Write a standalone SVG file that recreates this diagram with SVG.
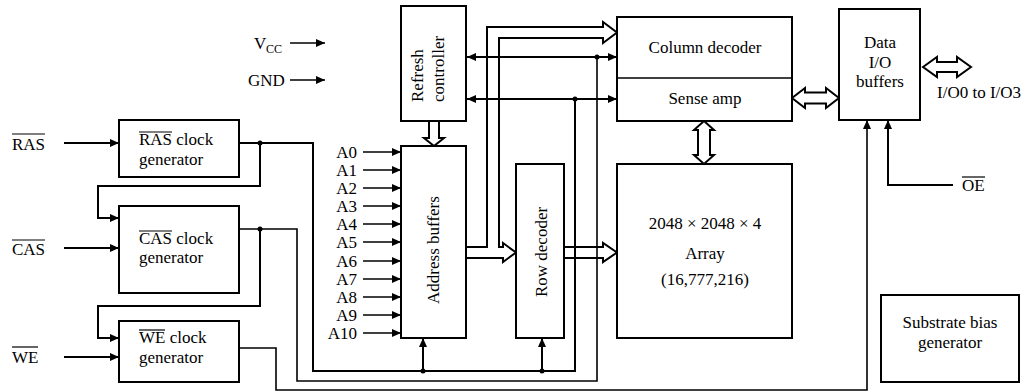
<svg xmlns="http://www.w3.org/2000/svg" width="1024" height="392" viewBox="0 0 1024 392">
<style>
text{font-family:"Liberation Serif","Times New Roman",serif;font-size:17px;fill:#000}
.box{fill:#fff;stroke:#000;stroke-width:2}
.w{fill:none;stroke:#000;stroke-width:2}
.t{fill:none;stroke:#000;stroke-width:1.6}
.bus{fill:#fff;stroke:#000;stroke-width:2;stroke-linejoin:miter}
.ol{stroke:#000;stroke-width:1.2}
.m{text-anchor:middle}
.e{text-anchor:end}
</style>
<defs>
<marker id="ah" markerUnits="userSpaceOnUse" markerWidth="9" markerHeight="8" refX="9" refY="4" orient="auto">
<path d="M0,0 L9,4 L0,8 z" fill="#000"/>
</marker>
</defs>
<rect width="1024" height="392" fill="#fff"/>

<g id="power">
<text x="254" y="49">V</text><text x="266" y="53" style="font-size:12px">CC</text>
<line class="t" x1="290" y1="43" x2="325" y2="43" marker-end="url(#ah)"/>
<text x="248" y="86">GND</text>
<line class="t" x1="290" y1="80" x2="325" y2="80" marker-end="url(#ah)"/>
</g>

<g id="inputs">
<text x="12" y="150">RAS</text><line class="ol" x1="12" y1="134" x2="45" y2="134"/>
<text x="12" y="255">CAS</text><line class="ol" x1="12" y1="240" x2="45" y2="240"/>
<text x="12" y="363">WE</text><line class="ol" x1="12" y1="347" x2="38" y2="347"/>
<text x="962" y="191">OE</text><line class="ol" x1="962" y1="177" x2="985" y2="177"/>
<text x="937" y="98">I/O0 to I/O3</text>
<g id="addr-labels">
<text class="e" x="357" y="158">A0</text>
<text class="e" x="357" y="176">A1</text>
<text class="e" x="357" y="194">A2</text>
<text class="e" x="357" y="212">A3</text>
<text class="e" x="357" y="230">A4</text>
<text class="e" x="357" y="248">A5</text>
<text class="e" x="357" y="267">A6</text>
<text class="e" x="357" y="285">A7</text>
<text class="e" x="357" y="303">A8</text>
<text class="e" x="357" y="321">A9</text>
<text class="e" x="357" y="339">A10</text>
</g>
</g>

<g id="connectors">
<!-- inputs to clock generators -->
<line class="w" x1="64" y1="143" x2="119" y2="143" marker-end="url(#ah)"/>
<line class="w" x1="64" y1="248" x2="119" y2="248" marker-end="url(#ah)"/>
<line class="w" x1="64" y1="357" x2="119" y2="357" marker-end="url(#ah)"/>
<!-- RAS gen to CAS gen -->
<polyline class="w" points="260,143 260,186 98,186 98,218 119,218" marker-end="url(#ah)"/>
<!-- CAS gen to WE gen -->
<polyline class="w" points="260,229 260,306 98,306 98,338 119,338" marker-end="url(#ah)"/>
<!-- RAS output loop -->
<polyline class="w" points="239,143 313,143 313,371 575,371 575,99"/>
<line class="w" x1="423" y1="371" x2="423" y2="338" marker-end="url(#ah)"/>
<line class="w" x1="542" y1="371" x2="542" y2="338" marker-end="url(#ah)"/>
<!-- CAS output loop -->
<polyline class="t" points="239,229 297,229 297,381 597,381 597,57"/>
<!-- WE output to data I/O -->
<polyline class="t" points="239,348 276,348 276,390 867,390 867,120" marker-end="url(#ah)"/>
<!-- OE -->
<polyline class="w" points="953,185 888,185 888,120" marker-end="url(#ah)"/>
<!-- refresh to column decoder / sense amp -->
<line class="w" x1="540" y1="57" x2="467" y2="57" marker-end="url(#ah)"/>
<line class="w" x1="540" y1="57" x2="617" y2="57" marker-end="url(#ah)"/>
<line class="w" x1="540" y1="99" x2="467" y2="99" marker-end="url(#ah)"/>
<line class="w" x1="540" y1="99" x2="617" y2="99" marker-end="url(#ah)"/>
<!-- address inputs -->
<g class="t">
<line x1="363" y1="152" x2="401" y2="152" marker-end="url(#ah)"/>
<line x1="363" y1="170" x2="401" y2="170" marker-end="url(#ah)"/>
<line x1="363" y1="188" x2="401" y2="188" marker-end="url(#ah)"/>
<line x1="363" y1="206" x2="401" y2="206" marker-end="url(#ah)"/>
<line x1="363" y1="224" x2="401" y2="224" marker-end="url(#ah)"/>
<line x1="363" y1="242" x2="401" y2="242" marker-end="url(#ah)"/>
<line x1="363" y1="261" x2="401" y2="261" marker-end="url(#ah)"/>
<line x1="363" y1="279" x2="401" y2="279" marker-end="url(#ah)"/>
<line x1="363" y1="297" x2="401" y2="297" marker-end="url(#ah)"/>
<line x1="363" y1="315" x2="401" y2="315" marker-end="url(#ah)"/>
<line x1="363" y1="333" x2="401" y2="333" marker-end="url(#ah)"/>
</g>
<!-- address bus to column decoder and row decoder -->
<polyline class="w" points="466,247 487,247 487,27 603,27 603,22 617,32.5 603,43 603,38 499,38 499,247 503,247 503,243 516,252.5 503,262 503,258 466,258"/>
<!-- row decoder to array -->
<polyline class="w" points="564,247 603,247 603,243 617,252.5 603,262 603,258 564,258"/>
<!-- refresh to address buffers -->
<polyline class="w" points="429,121 429,138 424,138 434,146 444,138 439,138 439,121"/>
<!-- sense amp <-> array -->
<polygon class="bus" points="704,121 714,130 710,130 710,155 714,155 704,164 694,155 698,155 698,130 694,130"/>
<!-- sense amp <-> data I/O -->
<polygon class="bus" points="792,98 805,88 805,92.5 826,92.5 826,88 839,98 826,108 826,103.5 805,103.5 805,108"/>
<!-- data I/O <-> outside -->
<polygon class="bus" points="923,67 937,57 937,62 957,62 957,57 971,67 957,77 957,72 937,72 937,77"/>
<!-- junction dots -->
<g fill="#000">
<circle cx="260" cy="143" r="2.5"/>
<circle cx="260" cy="229" r="2.5"/>
<circle cx="423" cy="371" r="2.5"/>
<circle cx="542" cy="371" r="2.5"/>
<circle cx="597" cy="57" r="2.5"/>
<circle cx="575" cy="99" r="2.5"/>
</g>
</g>

<g id="ras-gen">
<rect class="box" x="119" y="120" width="120" height="57"/>
<text x="139" y="145">RAS clock</text><line class="ol" x1="139" y1="132" x2="172" y2="132"/>
<text x="139" y="165">generator</text>
</g>
<g id="cas-gen">
<rect class="box" x="119" y="206" width="120" height="87"/>
<text x="139" y="244">CAS clock</text><line class="ol" x1="139" y1="231" x2="172" y2="231"/>
<text x="139" y="263">generator</text>
</g>
<g id="we-gen">
<rect class="box" x="119" y="321" width="120" height="61"/>
<text x="139" y="343">WE clock</text><line class="ol" x1="139" y1="330" x2="165" y2="330"/>
<text x="139" y="363">generator</text>
</g>
<g id="refresh">
<rect class="box" x="401" y="6" width="65" height="115"/>
<text transform="translate(423,102) rotate(-90)">Refresh</text>
<text transform="translate(444,102) rotate(-90)">controller</text>
</g>
<g id="address-buffers">
<rect class="box" x="401" y="146" width="65" height="192"/>
<text class="m" transform="translate(439,250) rotate(-90)">Address buffers</text>
</g>
<g id="row-decoder">
<rect class="box" x="516" y="164" width="48" height="174"/>
<text class="m" transform="translate(547,252) rotate(-90)">Row decoder</text>
</g>
<g id="column-decoder">
<rect class="box" x="617" y="17" width="175" height="104"/>
<line class="t" x1="617" y1="78" x2="792" y2="78"/>
<text class="m" x="705" y="53">Column decoder</text>
<text class="m" x="705" y="104">Sense amp</text>
</g>
<g id="array">
<rect class="box" x="617" y="164" width="175" height="174"/>
<text class="m" x="705" y="229">2048 × 2048 × 4</text>
<text class="m" x="705" y="259">Array</text>
<text class="m" x="705" y="285">(16,777,216)</text>
</g>
<g id="data-io">
<rect class="box" x="839" y="9" width="81" height="111"/>
<text class="m" x="880" y="48">Data</text>
<text class="m" x="880" y="68">I/O</text>
<text class="m" x="880" y="87">buffers</text>
</g>
<g id="substrate">
<rect class="box" x="881" y="295" width="138" height="87"/>
<text class="m" x="950" y="328">Substrate bias</text>
<text class="m" x="950" y="348">generator</text>
</g>
</svg>
